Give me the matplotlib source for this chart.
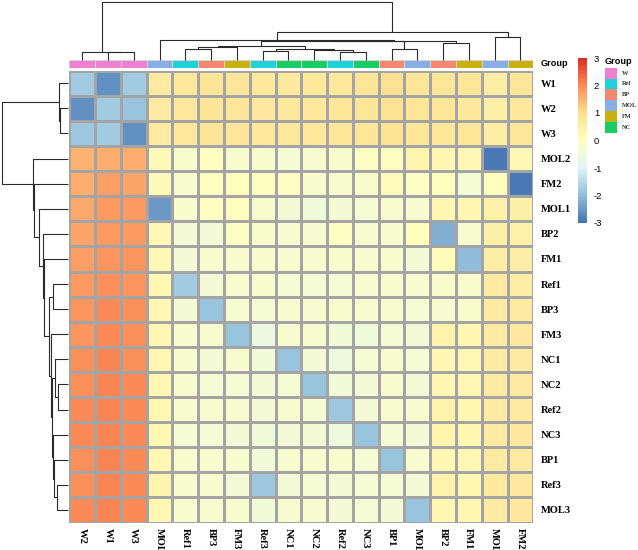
import numpy as np
import matplotlib
matplotlib.use("Agg")
import matplotlib.pyplot as plt
from matplotlib.colors import LinearSegmentedColormap, ListedColormap
from matplotlib.patches import Rectangle

plt.rcParams["axes.unicode_minus"] = False

# sample order after clustering
row_labels = ["W1", "W2", "W3", "MOL2", "FM2", "MOL1", "BP2", "FM1", "Ref1",
              "BP3", "FM3", "NC1", "NC2", "Ref2", "NC3", "BP1", "Ref3", "MOL3"]
col_labels = ["W2", "W1", "W3", "MOL1", "Ref1", "BP3", "FM3", "Ref3", "NC1",
              "NC2", "Ref2", "NC3", "BP1", "MOL3", "BP2", "FM1", "MOL2", "FM2"]

groups = ["W", "Ref", "BP", "MOL", "FM", "NC"]
group_colors = ["#F07ED2", "#1DD3D8", "#F5866F", "#87AEE6", "#C9B10F", "#18CC66"]
col_groups = ["W", "W", "W", "MOL", "Ref", "BP", "FM", "Ref", "NC",
              "NC", "Ref", "NC", "BP", "MOL", "BP", "FM", "MOL", "FM"]

# scaled values (rows x cols, same order as the labels)
values = np.array([
    [-1.8, -2.6, -1.8, 0.6, 0.75, 0.8, 0.8, 0.75, 0.7, 0.75, 0.75, 0.8, 0.9, 0.8, 0.8, 0.8, 0.55, 0.8],
    [-2.6, -1.8, -1.9, 0.6, 0.75, 0.8, 0.8, 0.7, 0.75, 0.75, 0.8, 0.8, 0.95, 0.8, 0.8, 0.75, 0.5, 0.75],
    [-1.85, -1.8, -2.6, 0.6, 0.75, 0.85, 0.8, 0.75, 0.75, 0.75, 0.8, 0.8, 0.95, 0.8, 0.8, 0.8, 0.55, 0.8],
    [1.55, 1.6, 1.6, 0.15, -0.2, 0.0, -0.3, -0.25, -0.35, -0.25, -0.3, -0.1, 0.05, 0.35, 0.25, 0.2, -2.9, 0.2],
    [1.6, 1.75, 1.7, 0.15, -0.3, 0.0, 0.05, 0.05, -0.1, -0.2, -0.25, -0.2, 0.1, -0.1, 0.05, -0.35, 0.05, -2.9],
    [1.65, 1.85, 1.8, -2.5, -0.25, 0.0, 0.05, -0.25, -0.4, -0.45, -0.4, -0.35, -0.3, -0.25, 0.3, 0.3, 0.45, 0.5],
    [1.7, 1.85, 1.85, 0.2, -0.4, -0.4, -0.1, -0.2, -0.25, -0.25, -0.1, -0.25, -0.3, 0.0, -2.2, -0.25, 0.5, 0.45],
    [1.75, 1.9, 1.9, 0.2, -0.4, -0.3, -0.25, -0.25, -0.25, -0.3, -0.25, -0.3, -0.3, -0.4, 0.1, -2.0, 0.55, 0.55],
    [1.85, 1.95, 1.9, 0.25, -1.8, -0.4, -0.3, -0.3, -0.35, -0.35, -0.35, -0.3, -0.3, -0.3, -0.2, -0.2, 0.6, 0.55],
    [1.9, 2.0, 1.95, 0.25, -0.4, -1.9, -0.3, -0.35, -0.3, -0.3, -0.3, -0.3, -0.3, -0.35, -0.25, -0.2, 0.6, 0.6],
    [1.9, 2.0, 1.95, 0.3, -0.3, -0.3, -1.9, -0.6, -0.3, -0.3, -0.45, -0.45, -0.35, -0.4, 0.4, 0.25, 0.6, 0.7],
    [1.95, 2.05, 1.95, 0.25, -0.3, -0.4, -0.3, -0.45, -1.9, -0.4, -0.5, -0.35, -0.3, -0.35, 0.3, 0.2, 0.6, 0.65],
    [1.95, 2.05, 2.0, 0.25, -0.3, -0.35, -0.35, -0.4, -0.35, -1.9, -0.45, -0.4, -0.3, -0.4, 0.25, 0.2, 0.6, 0.6],
    [2.0, 2.05, 2.0, 0.25, -0.3, -0.3, -0.3, -0.4, -0.3, -0.35, -1.85, -0.4, -0.3, -0.3, 0.4, 0.25, 0.6, 0.65],
    [2.0, 2.05, 2.0, 0.25, -0.35, -0.35, -0.4, -0.45, -0.4, -0.4, -0.5, -1.9, -0.35, -0.4, 0.35, 0.25, 0.65, 0.7],
    [1.95, 2.05, 2.0, 0.25, -0.3, -0.3, -0.3, -0.45, -0.3, -0.3, -0.3, -0.35, -1.9, -0.3, 0.3, 0.2, 0.6, 0.65],
    [1.95, 2.05, 2.0, 0.35, -0.3, -0.3, -0.4, -1.85, -0.4, -0.35, -0.4, -0.35, -0.35, -0.4, 0.4, 0.3, 0.7, 0.7],
    [2.0, 2.05, 2.0, 0.3, -0.25, -0.3, -0.3, -0.45, -0.3, -0.3, -0.4, -0.35, -0.4, -1.9, 0.3, 0.25, 0.65, 0.7],
])

# hierarchical merges: (node, left, right, height)
col_merges = [
    ("w23", "W1", "W3", 7.4), ("w", "W2", "w23", 8.0),
    ("c1", "Ref1", "BP3", 11.0), ("c2", "c1", "FM3", 12.8),
    ("a1", "Ref3", "NC1", 9.0), ("a2", "Ref2", "NC3", 8.0),
    ("a3", "NC2", "a2", 9.2), ("v", "a1", "a3", 10.7),
    ("z1", "c2", "v", 13.4), ("bm", "BP1", "MOL3", 11.0),
    ("z", "z1", "bm", 18.4), ("bf", "BP2", "FM1", 16.4),
    ("x", "z", "bf", 19.0), ("m1", "MOL1", "x", 19.7),
    ("mf", "MOL2", "FM2", 22.7), ("rest", "m1", "mf", 27.4),
    ("root", "w", "rest", 58.0),
]
row_merges = [
    ("w23", "W2", "W3", 8.3), ("w", "W1", "w23", 9.0),
    ("A", "Ref3", "MOL3", 11.7), ("B", "BP1", "A", 14.5),
    ("C", "NC3", "B", 15.5), ("D", "NC2", "Ref2", 10.0),
    ("E", "NC1", "D", 13.5), ("F", "E", "C", 16.5),
    ("G", "FM3", "F", 17.0), ("H", "Ref1", "BP3", 15.0),
    ("I", "H", "G", 19.0), ("J", "FM1", "I", 24.0),
    ("K", "BP2", "J", 25.0), ("L", "MOL1", "K", 29.0),
    ("M", "FM2", "L", 34.5), ("N", "MOL2", "M", 35.0),
    ("root", "w", "N", 66.6),
]

# pheatmap default palette (reversed RdYlBu, 7 colours)
cmap = LinearSegmentedColormap.from_list(
    "rdylbu_r", ["#4575B4", "#91BFDB", "#E0F3F8", "#FFFFBF", "#FEE090", "#FC8D59", "#D73027"], N=100)

serif = "Liberation Serif"
sans = "Liberation Sans"
line_col = "#2a2a2a"


def draw_tree(ax, leaves, merges, rows=False):
    pos = {name: i + 0.5 for i, name in enumerate(leaves)}
    hgt = {name: 0.0 for name in leaves}
    for node, left, right, h in merges:
        p = [pos[left], pos[left], pos[right], pos[right]]
        q = [hgt[left], h, h, hgt[right]]
        if rows:
            ax.plot(q, p, color=line_col, lw=0.8, clip_on=False, solid_capstyle="butt")
        else:
            ax.plot(p, q, color=line_col, lw=0.8, clip_on=False, solid_capstyle="butt")
        pos[node] = (pos[left] + pos[right]) / 2
        hgt[node] = h
    return hgt["root"]


W, H = 638, 550
fig = plt.figure(figsize=(W / 100, H / 100), dpi=100)


def px_axes(x0, y0, x1, y1):
    return fig.add_axes([x0 / W, 1 - y1 / H, (x1 - x0) / W, (y1 - y0) / H])


n_r, n_c = values.shape
hm_l, hm_r, hm_t, hm_b = 69.3, 533.3, 70.7, 522.5

# heatmap
ax = px_axes(hm_l, hm_t, hm_r, hm_b)
mesh = ax.pcolormesh(values, cmap=cmap, vmin=-3, vmax=3, edgecolors="#A4A4A4", linewidth=0.9)
ax.set_xlim(0, n_c)
ax.set_ylim(n_r, 0)
for s in ax.spines.values():
    s.set_visible(False)
ax.yaxis.tick_right()
ax.set_yticks(np.arange(n_r) + 0.5)
ax.set_yticklabels(row_labels, fontfamily=serif, fontweight="bold", fontsize=7.6)
ax.set_xticks(np.arange(n_c) + 0.5)
ax.set_xticklabels(col_labels, fontfamily=serif, fontweight="bold", fontsize=7.6,
                   rotation=270, va="top", ha="center")
ax.tick_params(length=0, axis="y", pad=5.5)
ax.tick_params(length=0, axis="x", pad=4)

# column annotation bar
ax_ann = px_axes(hm_l, 59.7, hm_r, 67.7)
codes = np.array([[groups.index(g) for g in col_groups]])
ax_ann.pcolormesh(codes, cmap=ListedColormap(group_colors), vmin=-0.5, vmax=len(groups) - 0.5,
                  edgecolors="#D4D4D4", linewidth=0.6)
ax_ann.set_xlim(0, n_c)
ax_ann.set_axis_off()
fig.text((hm_r + 7) / W, 1 - 64 / H, "Group", fontfamily=sans, fontweight="bold",
         fontsize=6.6, va="center", ha="left")

# dendrograms
ax_cd = px_axes(hm_l, 1.7, hm_r, 59.7)
top = draw_tree(ax_cd, col_labels, col_merges)
ax_cd.set_xlim(0, n_c)
ax_cd.set_ylim(0, top)
ax_cd.set_axis_off()

ax_rd = px_axes(1.7, hm_t, 68.3, hm_b)
top = draw_tree(ax_rd, row_labels, row_merges, rows=True)
ax_rd.set_ylim(n_r, 0)
ax_rd.set_xlim(top, 0)
ax_rd.set_axis_off()

# colour key
cax = px_axes(578, 58, 587, 223)
cb = fig.colorbar(mesh, cax=cax, ticks=[-3, -2, -1, 0, 1, 2, 3])
cb.outline.set_visible(False)
cax.tick_params(length=0, pad=5, labelsize=6.8)
for t in cax.get_yticklabels():
    t.set_fontfamily(sans)

# group legend
ax_lg = px_axes(604.5, 56, 638, 134)
ax_lg.set_xlim(0, 33.5)
ax_lg.set_ylim(78, 0)
ax_lg.set_axis_off()
ax_lg.text(0.5, 6, "Group", fontfamily=sans, fontweight="bold", fontsize=6.6, va="center", ha="left")
for i, (g, c) in enumerate(zip(groups, group_colors)):
    ax_lg.add_patch(Rectangle((0, 11.7 + i * 10.85), 12.5, 10.85, facecolor=c, edgecolor="none"))
    ax_lg.text(17, 11.7 + (i + 0.5) * 10.85, g, fontfamily=serif, fontweight="bold",
               fontsize=4.6, va="center", ha="left", color="#333333")

fig.savefig("out.png", dpi=100)
